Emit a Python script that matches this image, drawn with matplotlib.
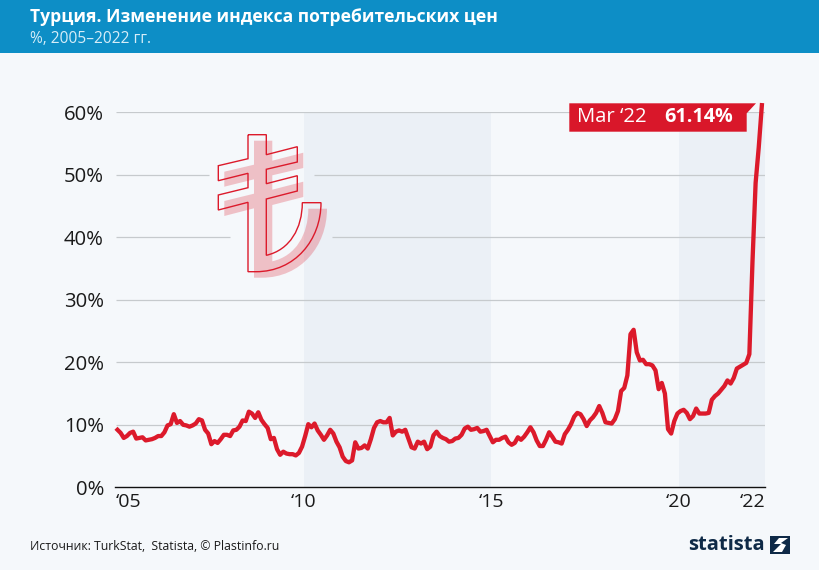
import matplotlib
matplotlib.use('Agg')
import matplotlib.pyplot as plt
from matplotlib.patches import Polygon, PathPatch, Rectangle
from matplotlib.path import Path

# monthly yoy change, Jan 2005 .. Mar 2022
cpi_2005 = [9.2, 8.7, 7.9, 8.2, 8.7, 8.9, 7.8, 7.9, 8.0, 7.5, 7.6, 7.7]
cpi_2006 = [7.9, 8.2, 8.2, 8.8, 9.9, 10.1, 11.7, 10.3, 10.6, 10.0, 9.9, 9.7]
cpi_2007 = [9.9, 10.2, 10.9, 10.7, 9.2, 8.6, 6.9, 7.4, 7.1, 7.7, 8.4, 8.4]
cpi_2008 = [8.2, 9.1, 9.2, 9.7, 10.7, 10.6, 12.1, 11.8, 11.1, 12.0, 10.8, 10.1]
cpi_2009 = [9.5, 7.7, 7.9, 6.1, 5.2, 5.7, 5.4, 5.3, 5.3, 5.1, 5.5, 6.5]
cpi_2010 = [8.2, 10.1, 9.6, 10.2, 9.1, 8.4, 7.6, 8.3, 9.2, 8.6, 7.3, 6.4]
cpi_2011 = [4.9, 4.2, 4.0, 4.3, 7.2, 6.2, 6.3, 6.7, 6.2, 7.7, 9.5, 10.4]
cpi_2012 = [10.6, 10.4, 10.4, 11.1, 8.3, 8.9, 9.1, 8.9, 9.2, 7.8, 6.4, 6.2]
cpi_2013 = [7.3, 7.0, 7.3, 6.1, 6.5, 8.3, 8.9, 8.2, 7.9, 7.7, 7.3, 7.4]
cpi_2014 = [7.8, 7.9, 8.4, 9.4, 9.7, 9.2, 9.3, 9.5, 8.9, 9.0, 9.2, 8.2]
cpi_2015 = [7.2, 7.6, 7.6, 7.9, 8.1, 7.2, 6.8, 7.1, 8.0, 7.6, 8.1, 8.8]
cpi_2016 = [9.6, 8.8, 7.5, 6.6, 6.6, 7.6, 8.8, 8.1, 7.3, 7.2, 7.0, 8.5]
cpi_2017 = [9.2, 10.1, 11.3, 11.9, 11.7, 10.9, 9.8, 10.7, 11.2, 11.9, 13.0, 11.9]
cpi_2018 = [10.4, 10.3, 10.2, 10.9, 12.2, 15.4, 15.9, 17.9, 24.5, 25.2, 21.6, 20.3]
cpi_2019 = [20.4, 19.7, 19.7, 19.5, 18.7, 15.7, 16.7, 15.0, 9.3, 8.6, 10.6, 11.8]
cpi_2020 = [12.2, 12.4, 11.9, 10.9, 11.4, 12.6, 11.8, 11.8, 11.8, 11.9, 14.0, 14.6]
cpi_2021 = [15.0, 15.6, 16.2, 17.1, 16.6, 17.5, 19.0, 19.3, 19.6, 19.9, 21.3, 36.1]
cpi_2022 = [48.7, 54.4, 61.14]

cpi = (cpi_2005 + cpi_2006 + cpi_2007 + cpi_2008 + cpi_2009 + cpi_2010 + cpi_2011 + cpi_2012 + cpi_2013
       + cpi_2014 + cpi_2015 + cpi_2016 + cpi_2017 + cpi_2018 + cpi_2019 + cpi_2020 + cpi_2021 + cpi_2022)
years = [2005.04 + i / 12 for i in range(len(cpi))]

y_ticks = [0, 10, 20, 30, 40, 50, 60]
x_ticks = [2005, 2010, 2015, 2020, 2022.29]
x_labels = ['‘05', '‘10', '‘15', '‘20', '‘22']
shaded = [(2010, 2015), (2020, 2022.29)]

W, H = 820, 570
BG = '#f5f8fb'
RED = '#dc1a2b'
plt.rcParams['font.family'] = ['Open Sans', 'DejaVu Sans']

fig = plt.figure(figsize=(W / 100, H / 100), dpi=100, facecolor=BG)
ax = fig.add_axes([115 / W, 1 - 487.3 / H, 650 / W, 375 / H], facecolor='none')
ax.set_xlim(2005 - 1 / 37.6, 2022.29)
ax.set_ylim(0, 60)

for a, b in shaded:
    ax.axvspan(a, b, color='#ebf0f6', lw=0, zorder=0)

# gridlines, 40 and 50 have a gap for the lira sign
for v in y_ticks[1:]:
    if v == 50:
        ax.hlines(v, 2005, 2007.47, color='#c6cacd', lw=0.9, zorder=1)
        ax.hlines(v, 2010.27, 2022.29, color='#c6cacd', lw=0.9, zorder=1)
    elif v == 40:
        ax.hlines(v, 2005, 2008.05, color='#c6cacd', lw=0.9, zorder=1)
        ax.hlines(v, 2010.75, 2022.29, color='#c6cacd', lw=0.9, zorder=1)
    else:
        ax.hlines(v, 2005, 2022.29, color='#c6cacd', lw=0.9, zorder=1)

ax.plot(years, cpi, color=RED, lw=3.1, solid_joinstyle='round', clip_on=False, zorder=3)

for s in ['top', 'left', 'right']:
    ax.spines[s].set_visible(False)
ax.spines['bottom'].set_color('#111111')
ax.spines['bottom'].set_linewidth(1.0)
ax.set_yticks(y_ticks)
ax.set_yticklabels([f'{v}%' for v in y_ticks], fontsize=14.6, color='#1a1a1a')
ax.set_xticks(x_ticks)
ax.set_xticklabels(x_labels, fontsize=14, color='#1a1a1a')
ax.tick_params(length=0)
ax.tick_params(axis='y', pad=8)
ax.tick_params(axis='x', pad=4)
ax.get_xticklabels()[0].set_ha('left')
ax.get_xticklabels()[-1].set_ha('right')

# overlay in picture pixels for the header, sign, label and logo
ov = fig.add_axes([0, 0, 1, 1], facecolor='none')
ov.set_xlim(0, W)
ov.set_ylim(H, 0)
ov.axis('off')

ov.add_patch(Rectangle((0, 0), W, 53, color='#0d8ec6', lw=0))
ov.text(30, 17, 'Турция. Изменение индекса потребительских цен', color='white', fontsize=12.6,
        fontweight='bold', va='center')
ov.text(30, 39, '%, 2005–2022 гг.', color='#d6edf8', fontsize=11.2, va='center')


def lira(dx, dy):
    verts = [(248, 134.7), (266.3, 134.7), (266.3, 154.7), (297.3, 146.7), (297.3, 162), (266.3, 169.3),
             (266.3, 183.7), (297.3, 175.7), (297.3, 191), (266.3, 199), (266.3, 255.3),
             (290, 250), (302.3, 228), (302.3, 202.7),
             (321, 202.7),
             (321, 240), (295, 271.7), (256, 271.7),
             (248, 271.7), (248, 202.3), (218.3, 210), (218.3, 195), (248, 187.7), (248, 173.3),
             (218.3, 180.7), (218.3, 165.7), (248, 158.7), (248, 134.7)]
    codes = [Path.MOVETO] + [Path.LINETO] * 10 + [Path.CURVE4] * 3 + [Path.LINETO] + [Path.CURVE4] * 3 \
        + [Path.LINETO] * 10
    return Path([(x + dx, y + dy) for x, y in verts], codes)


ov.add_patch(PathPatch(lira(6, 6), facecolor='#dc1a2b', alpha=0.25, lw=0))
ov.add_patch(PathPatch(lira(0, 0), facecolor='none', edgecolor=RED, lw=1))

# value label
ov.add_patch(Polygon([(569.3, 103.3), (756, 103.3), (746.7, 113.3), (746.7, 131.7), (569.3, 131.7)],
                     facecolor='#d9172a', lw=0))
ov.text(577, 117.5, 'Mar ‘22', color='white', fontsize=14.6, va='center')
ov.text(664, 117.5, '61.14%', color='white', fontsize=14.2, fontweight='bold', va='center')

# footer
ov.text(30, 547, 'Источник: TurkStat,  Statista, © Plastinfo.ru', color='#1a1a1a', fontsize=8.8, va='center')
ov.text(765, 545, 'statista', color='#0f2a47', fontsize=14.5, fontweight='bold', ha='right', va='center')
ov.add_patch(Rectangle((770, 536), 20, 18, color='#0f2a47', lw=0))
ov.add_patch(Polygon([(788, 538), (779, 538), (774, 544), (781, 544), (773, 552), (782, 552), (786, 545), (781, 543)],
                     facecolor='white', lw=0))

fig.savefig('out.png', dpi=100, facecolor=BG)
